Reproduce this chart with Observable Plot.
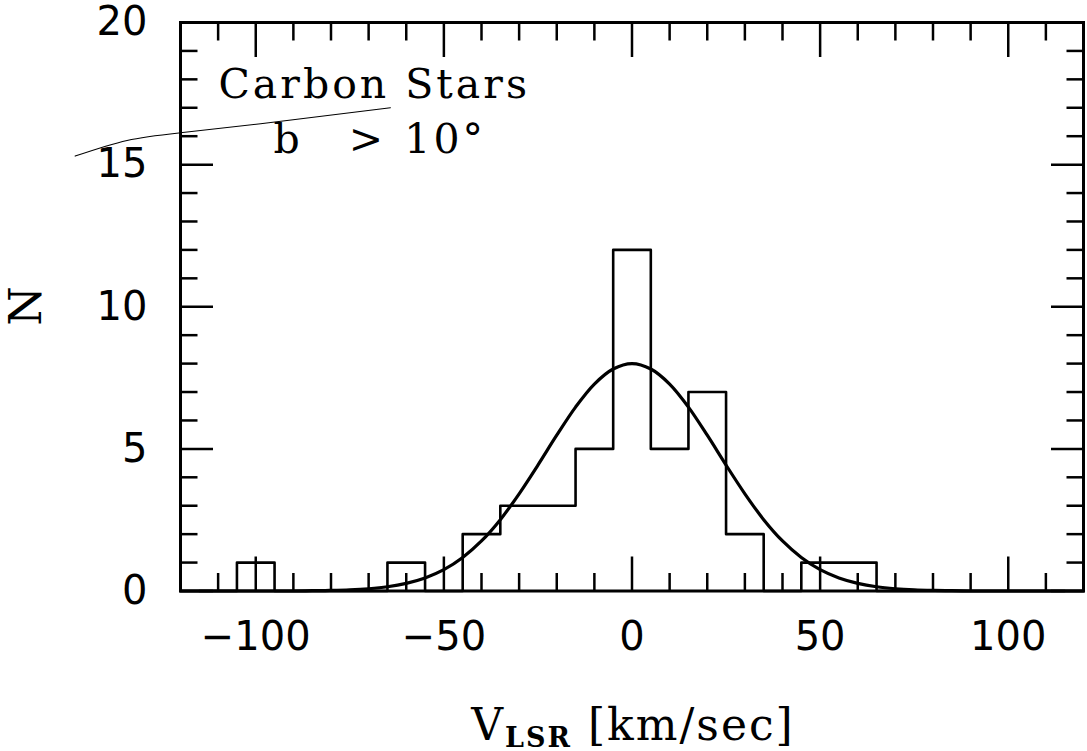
<!DOCTYPE html>
<html>
<head>
<meta charset="utf-8">
<script src="https://cdn.jsdelivr.net/npm/d3@7"></script>
<script src="https://cdn.jsdelivr.net/npm/@observablehq/plot@0.6"></script>
<style>
  body { margin: 0; background: #fff; }
  #chart svg { display: block; }
</style>
</head>
<body>
<div id="chart"></div>
<script>
// Histogram of V_LSR (bin centres, width 10 km/s) and counts
const binCenters = [-110, -100, -90, -80, -70, -60, -50, -40, -30, -20, -10, 0, 10, 20, 30, 40, 50, 60, 70, 80, 90, 100, 110];
const binCounts  = [0, 1, 0, 0, 0, 1, 0, 2, 3, 3, 5, 12, 5, 7, 2, 0, 1, 1, 0, 0, 0, 0, 0];
const binWidth = 10;

// Fitted curve, values
const fitV = [-120, -115, -110, -105, -100, -95, -90, -85, -80, -75, -70, -65, -60, -55, -50, -45, -40, -35, -30, -25, -20, -15, -10, -5, 0,
              5, 10, 15, 20, 25, 30, 35, 40, 45, 50, 55, 60, 65, 70, 75, 80, 85, 90, 95, 100, 105, 110, 115, 120];
const fitN = [0, 0, 0, 0, 0, 0, 0, 0.01, 0.02, 0.04, 0.08, 0.15, 0.27, 0.46, 0.75, 1.18, 1.76, 2.51, 3.42, 4.43, 5.48, 6.47, 7.28, 7.81, 8.0,
              7.81, 7.28, 6.47, 5.48, 4.43, 3.42, 2.51, 1.76, 1.18, 0.75, 0.46, 0.27, 0.15, 0.08, 0.04, 0.02, 0.01, 0, 0, 0, 0, 0, 0, 0];

// Axis ticks
const xMajor = [-100, -50, 0, 50, 100];
const xMinor = [-110, -90, -80, -70, -60, -40, -30, -20, -10, 10, 20, 30, 40, 60, 70, 80, 90, 110];
const yMajor = [0, 5, 10, 15, 20];
const yMinor = [1, 2, 3, 4, 6, 7, 8, 9, 11, 12, 13, 14, 16, 17, 18, 19];

// Annotation text
const annoText = ["Carbon Stars", "b", ">", "10°"];
const annoX    = [-109.9, -95.3, -75.3, -60.5];
const annoY    = [17.8, 15.88, 15.88, 15.88];

// Stray pen stroke on the scan
const penV = [-148.0, -134.2, -120, -98.7, -64.2];
const penN = [15.3, 15.85, 16.12, 16.44, 17.0];

// Build step outline from bins
const stepPts = binCenters.map((c, i) => ({v: c - binWidth / 2, n: binCounts[i]}));
stepPts.push({v: binCenters[binCenters.length - 1] + binWidth / 2, n: 0});
const fit = fitV.map((v, i) => ({v, n: fitN[i]}));
const anno = annoText.map((t, i) => ({t, v: annoX[i], n: annoY[i]}));
const pen = penV.map((v, i) => ({v, n: penN[i]}));

const minus = d => d < 0 ? "\u2212" + Math.abs(d) : String(d);
const blank = () => "";

const svg = Plot.plot({
  width: 1087,
  height: 751,
  marginTop: 22,
  marginBottom: 160.5,
  marginLeft: 180,
  marginRight: 4,
  x: {domain: [-120, 120], label: null},
  y: {domain: [0, 20], label: null},
  style: {fontFamily: "DejaVu Sans", fontSize: "40px", color: "black", background: "white", overflow: "visible"},
  marks: [
    Plot.axisX(xMinor, {anchor: "bottom", tickSize: -17.5, tickFormat: blank, strokeWidth: 2.5, label: null}),
    Plot.axisX(xMajor, {anchor: "bottom", tickSize: -34, tickFormat: blank, strokeWidth: 2.5, label: null}),
    Plot.axisX(xMinor, {anchor: "top", tickSize: -17.5, tickFormat: blank, strokeWidth: 2.5, label: null}),
    Plot.axisX(xMajor, {anchor: "top", tickSize: -34, tickFormat: blank, strokeWidth: 2.5, label: null}),
    Plot.axisX(xMajor, {anchor: "bottom", tickSize: 0, tickPadding: 31, tickFormat: minus, fontSize: 40, label: null}),
    Plot.axisY(yMinor, {anchor: "left", tickSize: -17.5, tickFormat: blank, strokeWidth: 2.5, label: null}),
    Plot.axisY(yMajor, {anchor: "left", tickSize: -33, tickFormat: blank, strokeWidth: 2.5, label: null}),
    Plot.axisY(yMinor, {anchor: "right", tickSize: -17.5, tickFormat: blank, strokeWidth: 2.5, label: null}),
    Plot.axisY(yMajor, {anchor: "right", tickSize: -33, tickFormat: blank, strokeWidth: 2.5, label: null}),
    Plot.axisY(yMajor, {anchor: "left", tickSize: 0, tickPadding: 33, tickFormat: d => String(d), fontSize: 40, label: null}),
    Plot.line(stepPts, {x: "v", y: "n", curve: "step-after", stroke: "black", strokeWidth: 2.6}),
    Plot.line(fit, {x: "v", y: "n", curve: "catmull-rom", stroke: "black", strokeWidth: 3.2}),
    Plot.line(pen, {x: "v", y: "n", curve: "natural", stroke: "black", strokeWidth: 1.1}),
    Plot.text(anno, {x: "v", y: "n", text: "t", textAnchor: "start", fontFamily: "DejaVu Serif", fontSize: 41}),
    Plot.frame({stroke: "black", strokeWidth: 3})
  ]
});

const root = d3.select(svg);
root.selectAll("g[font-family='DejaVu Serif']").attr("letter-spacing", "3px");

// Y-axis title, rotated
root.append("text")
  .attr("transform", "translate(25,306) rotate(-90)")
  .attr("text-anchor", "middle")
  .attr("dy", "0.36em")
  .attr("font-family", "DejaVu Serif")
  .attr("font-size", 45)
  .attr("fill", "black")
  .text("N");

// X-axis title with subscript
const xt = root.append("text")
  .attr("x", 633).attr("y", 740)
  .attr("text-anchor", "middle")
  .attr("font-family", "DejaVu Serif")
  .attr("font-size", 44)
  .attr("letter-spacing", "2px")
  .attr("fill", "black");
xt.append("tspan").text("V");
xt.append("tspan").attr("font-size", 27).attr("font-weight", "bold").attr("dy", 7).text("LSR");
xt.append("tspan").attr("dy", -7).text(" [km/sec]");

document.getElementById("chart").appendChild(svg);
</script>
</body>
</html>
